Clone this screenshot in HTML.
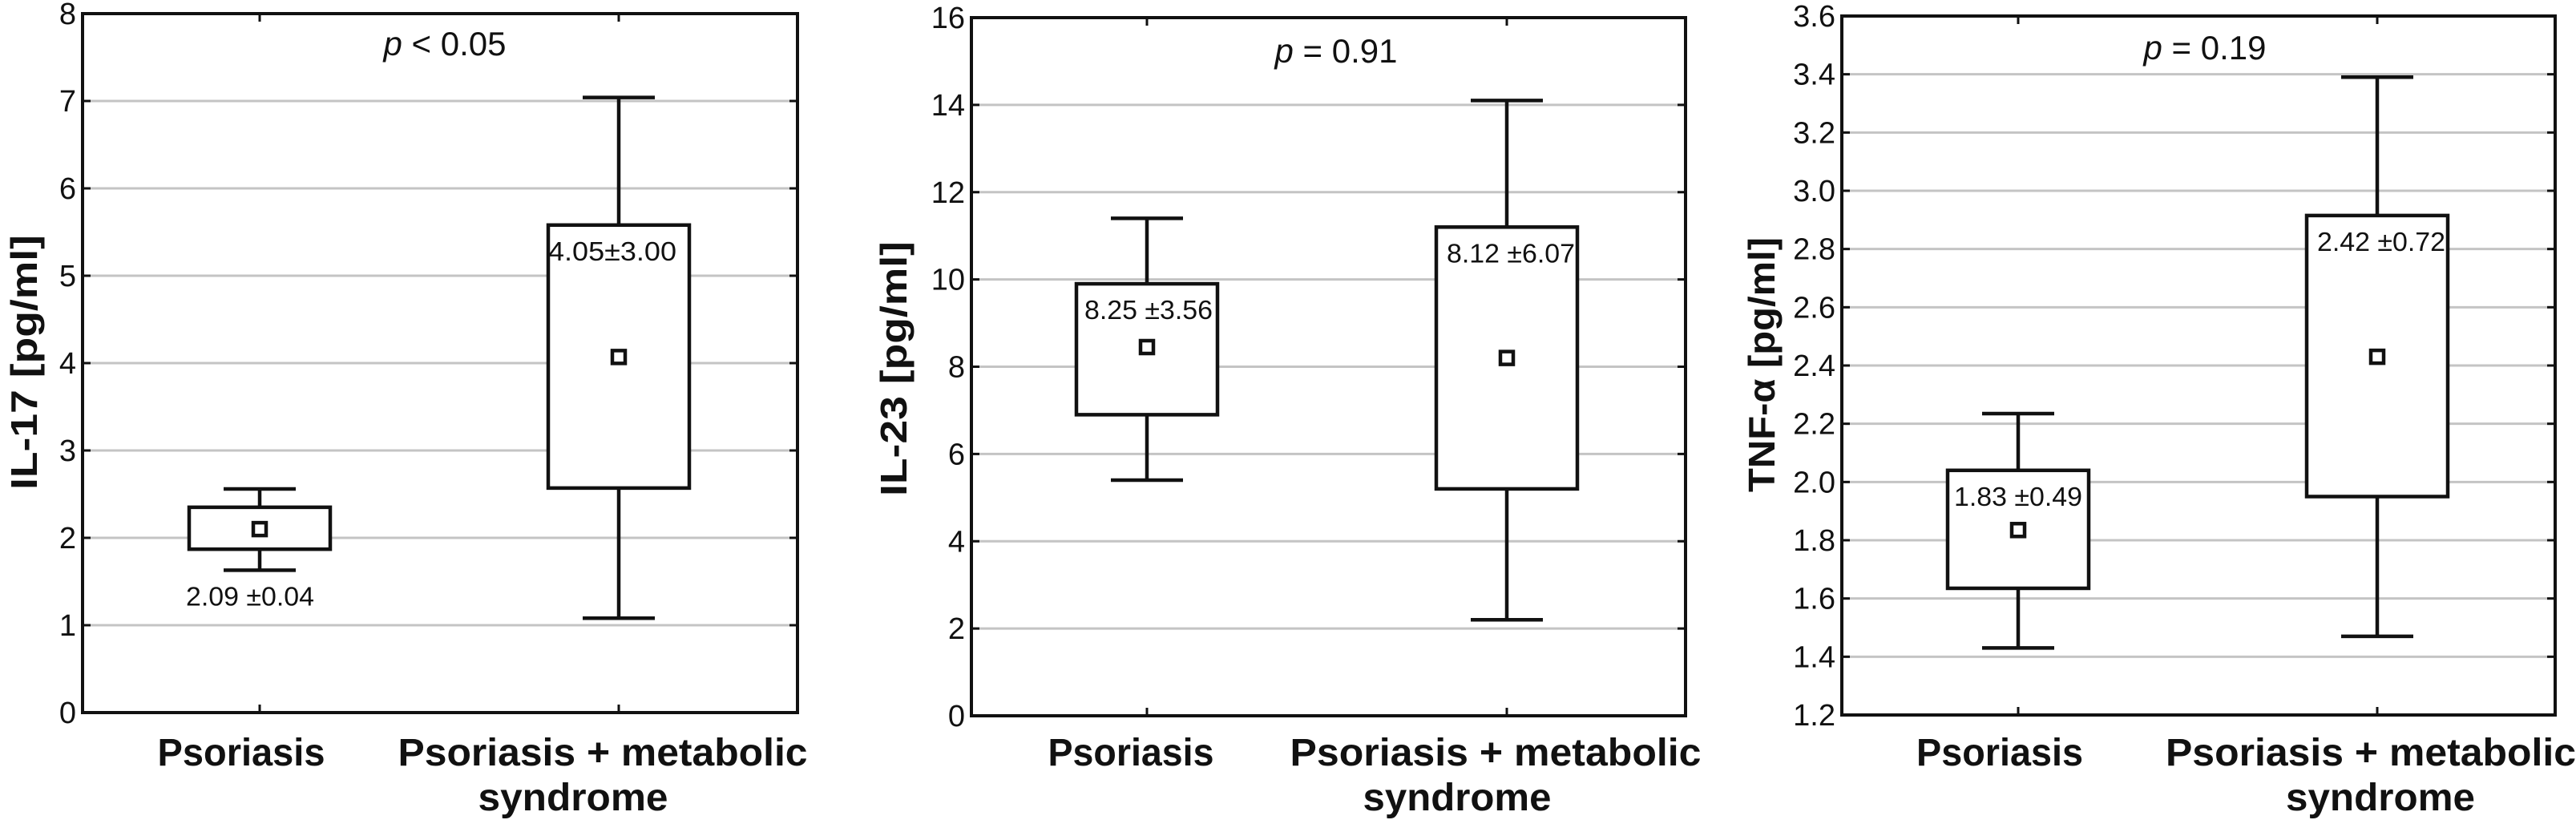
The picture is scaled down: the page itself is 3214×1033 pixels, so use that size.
<!DOCTYPE html>
<html><head><meta charset="utf-8"><style>
html,body{margin:0;padding:0;background:#fff;}
svg{display:block;}
text{font-family:"Liberation Sans","DejaVu Sans",sans-serif;fill:#111;}
</style></head><body>
<svg id="chart" width="3214" height="1033" viewBox="0 0 3214 1033" xmlns="http://www.w3.org/2000/svg"></svg>
<script>
const categories = ["Psoriasis", "Psoriasis + metabolic syndrome"];
const yTitles = ["IL-17 [pg/ml]", "IL-23 [pg/ml]", "TNF-\u03b1 [pg/ml]"];
const pLabels = ["< 0.05", "= 0.91", "= 0.19"];
const yMins = [0, 0, 1.2];
const yMaxs = [8, 16, 3.6];
const ticks1 = [0,1,2,3,4,5,6,7,8];
const ticks2 = [0,2,4,6,8,10,12,14,16];
const ticks3 = [1.2,1.4,1.6,1.8,2.0,2.2,2.4,2.6,2.8,3.0,3.2,3.4,3.6];
const tickDecimals = [0, 0, 1];
const whiskerLow1 = [1.63, 1.08];
const q1_1 = [1.87, 2.57];
const q3_1 = [2.35, 5.58];
const whiskerHigh1 = [2.56, 7.04];
const mean1 = [2.10, 4.07];
const whiskerLow2 = [5.4, 2.2];
const q1_2 = [6.9, 5.2];
const q3_2 = [9.9, 11.2];
const whiskerHigh2 = [11.4, 14.1];
const mean2 = [8.45, 8.2];
const whiskerLow3 = [1.43, 1.47];
const q1_3 = [1.635, 1.95];
const q3_3 = [2.04, 2.915];
const whiskerHigh3 = [2.235, 3.39];
const mean3 = [1.835, 2.43];
const annot1 = ["2.09 \u00b10.04", "4.05\u00b13.00"];
const annot2 = ["8.25 \u00b13.56", "8.12 \u00b16.07"];
const annot3 = ["1.83 \u00b10.49", "2.42 \u00b10.72"];

const NS = "http://www.w3.org/2000/svg";
const svg = document.getElementById("chart");
function mk(tag, attrs, parent){const e=document.createElementNS(NS,tag);for(const k in attrs)e.setAttribute(k,attrs[k]);(parent||svg).appendChild(e);return e;}

const panels = [
 {L:103,R:995,T:17,B:889,cx:[324,772],titleX:30,titleY:452,pX:555,pY:69,ticks:ticks1,
  wl:whiskerLow1,q1:q1_1,q3:q3_1,wh:whiskerHigh1,mean:mean1,ann:annot1,
  annX:[312,764],annMode:["below","inside"],
  catX:[301,752,715],catW:[209,511,237]},
 {L:1212,R:2103,T:22,B:893,cx:[1431,1880],titleX:1115,titleY:460,pX:1667,pY:78,ticks:ticks2,
  wl:whiskerLow2,q1:q1_2,q3:q3_2,wh:whiskerHigh2,mean:mean2,ann:annot2,
  annX:[1433,1885],annMode:["inside","inside"],
  catX:[1411,1866,1818],catW:[207,513,235]},
 {L:2298,R:3188,T:20,B:892,cx:[2518,2966],titleX:2198,titleY:455,pX:2751,pY:74,ticks:ticks3,
  wl:whiskerLow3,q1:q1_3,q3:q3_3,wh:whiskerHigh3,mean:mean3,ann:annot3,
  annX:[2518,2971],annMode:["inside","inside"],
  catX:[2495,2958,2970],catW:[208,512,236]}
];

panels.forEach((p,i)=>{
  const g = mk("g",{});
  
  
  const y = v => p.B - (v - yMins[i])/(yMaxs[i]-yMins[i])*(p.B-p.T);
  p.ticks.forEach(t=>{
    const yy=y(t);
    if(t!==yMins[i] && t!==yMaxs[i]){
      const gl=mk("line",{x1:p.L,x2:p.R,y1:yy,y2:yy,stroke:"#c4c4c4","stroke-width":3},g);
      
      
    }
    mk("line",{x1:p.L,x2:p.L+10,y1:yy,y2:yy,stroke:"#111","stroke-width":3},g);
    mk("line",{x1:p.R-10,x2:p.R,y1:yy,y2:yy,stroke:"#111","stroke-width":3},g);
    const tl=mk("text",{x:p.L-8,y:yy+13,"text-anchor":"end","font-size":38},g);
    tl.textContent=t.toFixed(tickDecimals[i]);
    
    
  });
  p.cx.forEach(cx=>{
    mk("line",{x1:cx,x2:cx,y1:p.T,y2:p.T+10,stroke:"#111","stroke-width":3},g);
    mk("line",{x1:cx,x2:cx,y1:p.B-10,y2:p.B,stroke:"#111","stroke-width":3},g);
  });
  for(let k=0;k<2;k++){
    const cx=p.cx[k];
    const bg=mk("g",{},g);
    
    
    mk("line",{x1:cx,x2:cx,y1:y(p.wh[k]),y2:y(p.q3[k]),stroke:"#111","stroke-width":4.5},bg);
    mk("line",{x1:cx,x2:cx,y1:y(p.q1[k]),y2:y(p.wl[k]),stroke:"#111","stroke-width":4.5},bg);
    mk("line",{x1:cx-45,x2:cx+45,y1:y(p.wh[k]),y2:y(p.wh[k]),stroke:"#111","stroke-width":4.5},bg);
    mk("line",{x1:cx-45,x2:cx+45,y1:y(p.wl[k]),y2:y(p.wl[k]),stroke:"#111","stroke-width":4.5},bg);
    mk("rect",{x:cx-88,y:y(p.q3[k]),width:176,height:y(p.q1[k])-y(p.q3[k]),fill:"#fff",stroke:"#111","stroke-width":4.5},bg);
    const m=mk("rect",{x:cx-8,y:y(p.mean[k])-8,width:16,height:16,fill:"#fff",stroke:"#111","stroke-width":4.5},bg);
    
    
    const ay = p.annMode[k]==="below" ? y(p.wl[k])+44 : y(p.q3[k])+44;
    const at=mk("text",{x:p.annX[k],y:ay,"text-anchor":"middle","font-size":33,textLength:160,lengthAdjust:"spacingAndGlyphs"},bg);
    at.textContent=p.ann[k];
    
    
  }
  const fr=mk("rect",{x:p.L,y:p.T,width:p.R-p.L,height:p.B-p.T,fill:"none",stroke:"#111","stroke-width":4},g);
  
  
  const pt=mk("text",{x:p.pX,y:p.pY,"text-anchor":"middle","font-size":42},g);
  const pi=mk("tspan",{"font-style":"italic"},pt); pi.textContent="p";
  const pr=mk("tspan",{},pt); pr.textContent=" "+pLabels[i];
  
  
  const yt=mk("text",{x:p.titleX,y:p.titleY,"text-anchor":"middle","font-size":46,"font-weight":"bold",transform:`rotate(-90 ${p.titleX} ${p.titleY})`,dy:16,textLength:318,lengthAdjust:"spacingAndGlyphs"},g);
  yt.textContent=yTitles[i];
  
  
  const c1=mk("text",{x:p.catX[0],y:955,"text-anchor":"middle","font-size":48,"font-weight":"bold",textLength:p.catW[0],lengthAdjust:"spacingAndGlyphs"},g);
  c1.textContent=categories[0];
  
  
  const words=categories[1].split(" ");
  const c2=mk("text",{x:p.catX[1],y:955,"text-anchor":"middle","font-size":48,"font-weight":"bold",textLength:p.catW[1],lengthAdjust:"spacingAndGlyphs"},g);
  c2.textContent=words.slice(0,3).join(" ");
  
  
  const c3=mk("text",{x:p.catX[2],y:1011,"text-anchor":"middle","font-size":48,"font-weight":"bold",textLength:p.catW[2],lengthAdjust:"spacingAndGlyphs"},g);
  c3.textContent=words.slice(3).join(" ");
  
  
});
</script>
</body></html>
